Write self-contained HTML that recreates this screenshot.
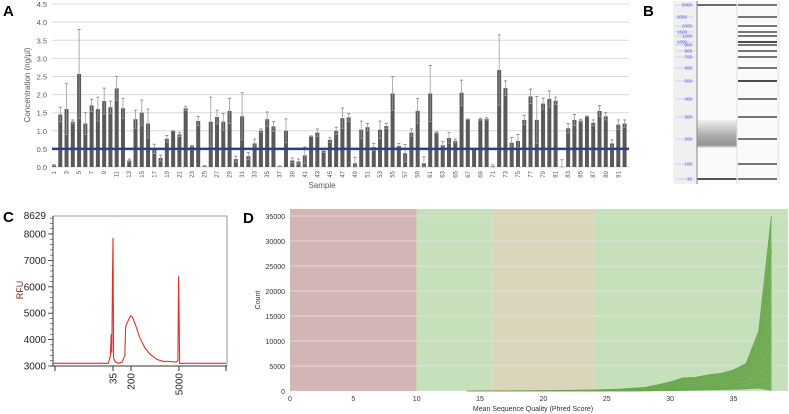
<!DOCTYPE html>
<html><head><meta charset="utf-8"><style>
html,body{margin:0;padding:0;background:#fff;}
svg{display:block;font-family:"Liberation Sans",sans-serif;}
</style></head><body>
<svg id="fig" width="789" height="414" viewBox="0 0 789 414" xmlns="http://www.w3.org/2000/svg">
<g id="pA"></g>
<g id="pB"></g>
<g id="pC"></g>
<g id="pD"></g>
</svg>
<script>
// ---- Panel A data ----
const aValues = [0.05,1.45,1.6,1.25,2.57,1.2,1.7,1.6,1.82,1.65,2.17,1.62,0.18,1.32,1.5,1.2,0.5,0.25,0.78,1.0,0.9,1.62,0.58,1.27,0.03,1.25,1.38,1.25,1.55,0.22,1.4,0.3,0.65,1.0,1.32,1.12,0.02,1.0,0.18,0.15,0.32,0.85,0.95,0.45,0.75,1.0,1.35,1.37,0.1,1.03,1.1,0.55,1.03,1.13,2.03,0.58,0.38,0.95,1.55,0.1,2.03,0.95,0.6,0.8,0.72,2.05,1.32,0.5,1.32,1.33,0.02,2.68,2.18,0.67,0.72,1.3,1.95,1.3,1.75,1.88,1.83,0.0,1.07,1.3,1.28,1.4,1.22,1.55,1.4,0.65,1.17,1.2];
const aErrTop = [0.07,1.65,2.3,1.3,3.8,1.5,1.87,1.93,2.18,1.82,2.5,1.9,0.22,1.57,1.85,1.6,0.63,0.33,0.87,1.0,0.96,1.68,0.6,1.4,0.04,1.93,1.57,1.48,1.9,0.3,2.05,0.4,0.77,1.05,1.52,1.25,0.03,1.33,0.25,0.22,0.55,0.86,1.05,0.5,0.82,1.1,1.63,1.48,0.27,1.27,1.2,0.65,1.27,1.2,2.5,0.65,0.62,1.05,1.89,0.28,2.8,0.97,0.7,0.95,0.77,2.4,1.33,0.51,1.35,1.36,0.06,3.65,2.38,0.82,0.9,1.43,2.15,1.95,1.9,2.1,1.93,0.2,1.2,1.45,1.32,1.41,1.3,1.7,1.5,0.75,1.3,1.3];
const aYTicks = ["0.0","0.5","1.0","1.5","2.0","2.5","3.0","3.5","4.0","4.5"];
const aThreshold = 0.5;
// ---- Panel B data ----
const bLadder = ["5000","3000","2000","1500","1200","1000","900","800","700","600","500","400","300","200","100","35"];
const bBandY = [5,17,26,32,36,42,45,51,57,68,81,99,117,139,164,179];
// ---- Panel C data ----
const cT = [0,32,33.2,33.6,34,34.4,34.7,35,36,38,40,41.5,42,43,44,45,46,48,50,53,56,60,64,66,71,72.2,72.6,72.9,73.2,100];
const cRFU = [3100,3100,3400,4200,3500,6400,7850,3300,3150,3100,3150,3400,4500,4650,4800,4900,4850,4500,4100,3700,3450,3250,3170,3180,3150,3200,6400,4900,3100,3100];
const cYTicks = [3000,4000,5000,6000,7000,8000];
const cXTickLabels = ["35","200","5000"];
const cXTickT = [34.7,45.1,72.8];
// ---- Panel D data ----
const dX = [14,20,24,26,28,29,30,31,32,33,34,35,36,37,38];
const dS1 = [0,50,200,350,700,1200,1800,2600,2700,3200,3500,4200,5500,12000,35000];
const dS2 = [0,40,150,300,600,1000,1600,2300,2500,3000,3300,3900,5000,10000,28000];
const dS3 = [0,30,120,250,500,900,1400,2000,2200,2600,3000,3500,4500,8500,22000];
const dS4 = [0,20,100,200,400,700,1100,1600,1800,2200,2500,3000,4000,7000,16000];
const dS5 = [0,10,80,150,300,500,800,1200,1400,1700,2000,2500,3200,5500,12000];
const dS6 = [0,10,50,100,200,350,600,900,1000,1300,1500,1900,2500,4000,8000];
const dS7 = [0,5,30,60,120,200,350,500,600,800,1000,1200,1600,2500,4500];
const dS8 = [0,0,10,30,60,100,200,300,350,450,550,700,900,1300,2000];
const dS9 = [0,0,5,10,30,60,100,150,200,250,300,350,450,600,200];
const dYTicks = [0,5000,10000,15000,20000,25000,30000,35000];
const dXTicks = [0,5,10,15,20,25,30,35];
const dZoneStart = [0,10,16,24];
const dZoneEnd = [10,16,24,39.3];
const dZoneColor = ["#d4b5b6","#c6e0bb","#dad5bb","#c6e0bb"];

const NS="http://www.w3.org/2000/svg";
function mk(parent,tag,attrs,txt){const e=document.createElementNS(NS,tag);for(const k in attrs)e.setAttribute(k,attrs[k]);if(txt!==undefined)e.textContent=txt;parent.appendChild(e);return e;}

// ===== Panel A =====
const A=document.getElementById('pA');
const ax=i=>54+i*6.27, ay=v=>167-v*36.2;
let t=mk(A,'text',{x:3,y:16,'font-size':15,'font-weight':'bold',fill:'#000'},'A');


aYTicks.forEach(s=>{const v=parseFloat(s);
 const g=mk(A,'line',{x1:52,x2:629,y1:ay(v),y2:ay(v),stroke:'#d9d9d9','stroke-width':1});
 
 
 const tl=mk(A,'text',{x:47,y:ay(v)+3,'font-size':7.5,fill:'#595959','text-anchor':'end'},s);
 
 
});
t=mk(A,'text',{transform:'translate(30,85) rotate(-90)','font-size':8,fill:'#595959','text-anchor':'middle'},'Concentration (ng/µl)');


aValues.forEach((v,i)=>{const x=ax(i);
 const b=mk(A,'rect',{x:x-2,y:ay(v),width:4,height:167-ay(v),fill:'#595959'});
 
 
 const top=aErrTop[i], bot=Math.max(0,2*v-top);
 const e=mk(A,'line',{x1:x,x2:x,y1:ay(top),y2:ay(bot),stroke:'#9a9a9a','stroke-width':0.8});
 
 
 mk(A,'line',{x1:x-1.5,x2:x+1.5,y1:ay(top),y2:ay(top),stroke:'#7a7a7a','stroke-width':0.8});
 mk(A,'line',{x1:x-1.5,x2:x+1.5,y1:ay(bot),y2:ay(bot),stroke:'#9a9a9a','stroke-width':0.8});
 if(i%2===0){const l=mk(A,'text',{transform:`translate(${x+2},171) rotate(-90)`,'font-size':6,fill:'#595959','text-anchor':'end'},String(i+1));
  
  }
});
t=mk(A,'line',{x1:52,x2:629,y1:ay(aThreshold),y2:ay(aThreshold),stroke:'#2e3d8c','stroke-width':2.5});


t=mk(A,'text',{x:322,y:188,'font-size':8,fill:'#595959','text-anchor':'middle'},'Sample');



// ===== Panel B =====
const B=document.getElementById('pB');
t=mk(B,'text',{x:643,y:16,'font-size':15,'font-weight':'bold',fill:'#000'},'B');


t=mk(B,'rect',{x:673,y:1,width:107,height:183,fill:'#f0f0f0'});


mk(B,'rect',{x:697,y:1,width:80,height:183,fill:'#fafafa'});
const defs=mk(B,'defs',{});
const lg=mk(defs,'linearGradient',{id:'smear',x1:0,y1:0,x2:0,y2:1});
mk(lg,'stop',{offset:'0','stop-color':'#f0f0f0'});
mk(lg,'stop',{offset:'0.6','stop-color':'#a8a8a8'});
mk(lg,'stop',{offset:'0.9','stop-color':'#949494'});
mk(lg,'stop',{offset:'1','stop-color':'#f0f0f0'});
t=mk(B,'rect',{x:697,y:120,width:40,height:28,fill:'url(#smear)'});


mk(B,'rect',{x:697,y:4,width:40,height:2,fill:'#6a6a6a'});
mk(B,'rect',{x:697,y:178,width:40,height:2,fill:'#555'});
mk(B,'line',{x1:697,x2:697,y1:1,y2:184,stroke:'#888','stroke-width':1});
mk(B,'line',{x1:737,x2:737,y1:1,y2:184,stroke:'#ddd','stroke-width':1});
bLadder.forEach((s,i)=>{const y=bBandY[i];
 const band=mk(B,'rect',{x:738,y:y-0.8,width:39,height:1.6,fill:(s==='500'||s==='1000')?'#222':'#555'});
 
 
 mk(B,'line',{x1:675,x2:694,y1:y,y2:y,stroke:'#b0b0ff','stroke-width':0.6});
 const lx=(i%2===0||i>6)?692:687;
 const l=mk(B,'text',{x:lx,y:y+1.5,'font-size':4.5,fill:'#5555dd','text-anchor':'end'},s);
 
 
});

// ===== Panel C =====
const C=document.getElementById('pC');
const cx=v=>53+v*1.73, cy=v=>366-(v-3000)*0.0264;
t=mk(C,'text',{x:3,y:222,'font-size':15,'font-weight':'bold',fill:'#000'},'C');


mk(C,'polyline',{points:`53,216 227,216 227,366`,fill:'none',stroke:'#999','stroke-width':1});
mk(C,'line',{x1:53,x2:53,y1:216,y2:366,stroke:'#333','stroke-width':1});
mk(C,'line',{x1:53,x2:227,y1:366,y2:366,stroke:'#333','stroke-width':1});
for(let v=3000;v<=8600;v+=200){mk(C,'line',{x1:50,x2:53,y1:cy(v),y2:cy(v),stroke:'#333','stroke-width':0.6});}
cYTicks.forEach(v=>{mk(C,'line',{x1:48,x2:53,y1:cy(v),y2:cy(v),stroke:'#333','stroke-width':0.8});
 const l=mk(C,'text',{x:46,y:cy(v)+3.5,'font-size':10,fill:'#222','text-anchor':'end'},String(v));
 
 });
t=mk(C,'text',{x:46,y:219,'font-size':10,fill:'#222','text-anchor':'end'},'8629');


t=mk(C,'text',{transform:'translate(23,290) rotate(-90)','font-size':9,fill:'#7a1a1a','text-anchor':'middle'},'RFU');


mk(C,'line',{x1:55,x2:55,y1:366,y2:371,stroke:'#333'});
mk(C,'line',{x1:226,x2:226,y1:366,y2:371,stroke:'#333'});
cXTickLabels.forEach((s,i)=>{const x=cx(cXTickT[i]);
 mk(C,'line',{x1:x,x2:x,y1:366,y2:371,stroke:'#333'});
 const l=mk(C,'text',{transform:`translate(${x+3.5},373) rotate(-90)`,'font-size':10,fill:'#222','text-anchor':'end'},s);
 
 });
t=mk(C,'polyline',{points:cT.map((v,i)=>cx(v)+','+cy(cRFU[i])).join(' '),fill:'none',stroke:'#e0302a','stroke-width':1.1});



// ===== Panel D =====
const D=document.getElementById('pD');
const dx=v=>290+v*12.67, dy=v=>391-v*0.005;
t=mk(D,'text',{x:243,y:223,'font-size':15,'font-weight':'bold',fill:'#000'},'D');


dZoneStart.forEach((s,i)=>{const z=mk(D,'rect',{x:dx(s),y:209,width:dx(dZoneEnd[i])-dx(s),height:182,fill:dZoneColor[i]});
 
 });
dYTicks.forEach(v=>{if(v>0){const g=mk(D,'line',{x1:290,x2:788,y1:dy(v),y2:dy(v),stroke:'#e2e2e2','stroke-width':0.8});
 
 }
 const l=mk(D,'text',{x:285,y:dy(v)+3,'font-size':7,fill:'#333','text-anchor':'end'},String(v));
 
 });
dXTicks.forEach(v=>{const l=mk(D,'text',{x:dx(v),y:401,'font-size':7,fill:'#333','text-anchor':'middle'},String(v));
 
 });
t=mk(D,'text',{transform:'translate(260,300) rotate(-90)','font-size':7,fill:'#333','text-anchor':'middle'},'Count');


t=mk(D,'text',{x:533,y:411,'font-size':7,fill:'#333','text-anchor':'middle'},'Mean Sequence Quality (Phred Score)');


t=mk(D,'polygon',{points:dX.map((x,i)=>dx(x)+','+dy(dS1[i])).join(' ')+' '+dX.slice().reverse().map((x,i)=>dx(x)+','+dy(dS9[dX.length-1-i])).join(' '),fill:'#6aa84f','fill-opacity':0.9});


[dS1,dS2,dS3,dS4,dS5,dS6,dS7,dS8,dS9].forEach(s=>{
 const p=mk(D,'polyline',{points:dX.map((x,i)=>dx(x)+','+dy(s[i])).join(' '),fill:'none',stroke:'#6aa84f','stroke-width':0.9});
 
 
});
</script>
</body></html>
